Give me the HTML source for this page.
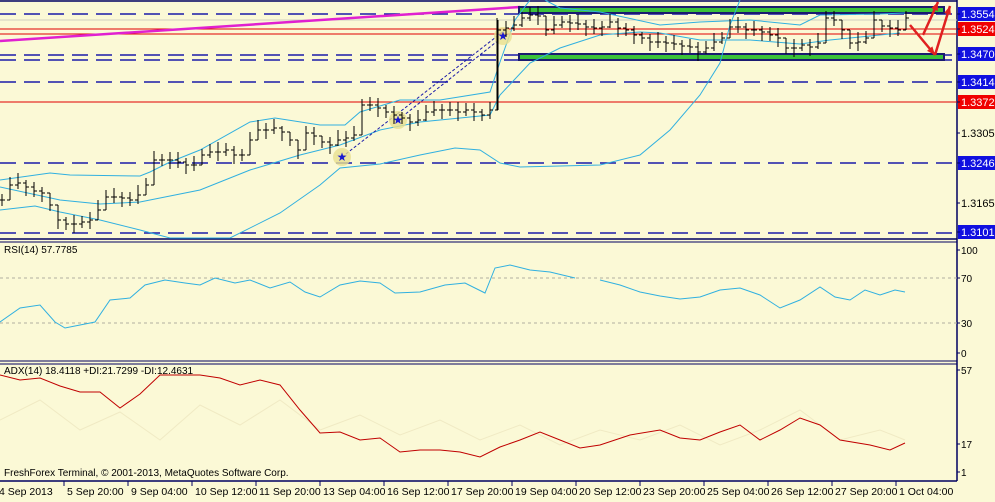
<!DOCTYPE html><html><head><style>
body{margin:0;background:#fbf9d6;}
svg{display:block;font-family:"Liberation Sans",sans-serif;}
</style></head><body>
<svg id="s" width="995" height="502" xmlns="http://www.w3.org/2000/svg">
<rect width="995" height="502" fill="#fbf9d6"/>
<g id="g"></g>
</svg>
<script>
const g=document.getElementById('g');let h='';
const L=(x1,y1,x2,y2,c,w,d)=>{h+=`<line x1="${x1}" y1="${y1}" x2="${x2}" y2="${y2}" stroke="${c}" stroke-width="${w||1}" ${d?`stroke-dasharray="${d}"`:''}/>`};
const P=(pts,c,w,extra)=>{h+=`<polyline fill="none" stroke="${c}" stroke-width="${w||1}" ${extra||''} points="${pts.map(p=>p.join(',')).join(' ')}"/>`};
const T=(x,y,t,c,s,a)=>{h+=`<text x="${x}" y="${y}" fill="${c}" font-size="${s||11}" ${a?`text-anchor="${a}"`:''}>${t}</text>`};
L(0,1,957,1,'#000060',1.5);L(0,239,957,239,'#000060',1.5);L(0,242,957,242,'#000060',1);
L(0,361,957,361,'#000060',1);L(0,364,957,364,'#000060',1);L(0,481,957,481,'#000060',1.5);
L(957,0,957,481,'#000060',1.5);
[14,55,60,82,163,233].forEach(y=>L(0,y,957,y,'#1a1aa8',1.5,'16,8'));
[29,34,102].forEach(y=>L(0,y,957,y,'#e00000',1));
L(0,20,957,20,'#d0d0c0',1);
L(0,41,520,7,'#e020d0',2.5);
h+=`<rect x="519" y="7" width="425" height="6" fill="#3ac23a" stroke="#1a1a70" stroke-width="2"/>`;
h+=`<rect x="519" y="54" width="425" height="6" fill="#3ac23a" stroke="#1a1a70" stroke-width="2"/>`;
const c='#30b0e0';
P([[0,180],[50,173],[70,175],[140,176],[150,172],[170,162],[200,150],[250,122],[275,118],[320,125],[345,125],[360,112],[400,100],[440,100],[490,92],[500,62],[515,20],[530,0]],c);
P([[545,0],[560,8],[600,12],[660,25],[700,22],[750,20],[800,25],[820,15],[880,14],[905,13]],c);
P([[0,187],[60,200],[100,204],[140,202],[200,190],[250,170],[300,155],[340,145],[380,130],[420,122],[490,115],[500,95],[530,63],[560,48],[600,35],[640,32],[660,33],[700,40],[750,40],[800,44],[830,40],[860,37],[900,33]],c);
P([[0,210],[35,206],[60,212],[100,220],[140,230],[170,238],[230,238],[280,213],[320,185],[340,168],[380,164],[420,155],[455,148],[480,150],[500,163],[520,167],[600,165],[640,155],[670,130],[700,95],[720,63],[730,25],[740,0]],c);
L(342,157,505,30,'#1a1aa8',1,'3,2');L(398,120,505,35,'#1a1aa8',1,'3,2');
[[342,157],[398,120],[503,36]].forEach(p=>{h+=`<circle cx="${p[0]}" cy="${p[1]}" r="9" fill="#e8e090" opacity=".8"/><text x="${p[0]}" y="${p[1]+4}" fill="#1a1ad0" font-size="12" text-anchor="middle">★</text>`});
const ys=[200,185,183,187,191,193,205,220,224,224,222,220,210,197,197,198,200,195,185,160,160,160,162,165,165,155,152,152,150,155,155,140,130,130,128,132,140,150,133,136,142,145,140,138,135,105,105,108,112,115,118,122,120,112,110,110,110,112,110,112,115,110,30,28,25,18,15,16,30,25,22,23,24,27,28,27,22,28,30,35,38,42,42,43,44,46,47,52,48,42,38,27,27,30,30,32,35,38,48,48,45,47,43,18,20,30,43,42,38,20,26,28,30,18];
ys.forEach((y,i)=>{const x=2+i*8;const hi=y-6-(i*7%5),lo=y+6+(i*3%6);const prev=i?ys[i-1]:y;L(x,Math.min(hi,prev),x,Math.max(lo,prev),'#000',1);L(x-3,prev,x,prev,'#000',1);L(x,y,x+3,y,'#000',1);});
L(497,110,497,18,'#000',1);
const ar=(x1,y1,x2,y2)=>{L(x1,y1,x2,y2,'#e02020',2.5);const a=Math.atan2(y2-y1,x2-x1),s=9;h+=`<polygon points="${x2},${y2} ${x2-s*Math.cos(a-.4)},${y2-s*Math.sin(a-.4)} ${x2-s*Math.cos(a+.4)},${y2-s*Math.sin(a+.4)}" fill="#e02020"/>`};
ar(923,35,938,2);ar(910,25,935,55);ar(935,55,950,6);
const lab=(y,t,bg)=>{if(bg)h+=`<rect x="958" y="${y-7}" width="37" height="14" fill="${bg}"/>`;T(961,y+4,t,bg?'#fff':'#000',11);L(957,y,960,y,'#000060',1)};
lab(14,'1.3554','#1010e0');lab(29,'1.3524','#f00000');lab(54,'1.3470','#1010e0');lab(82,'1.3414','#1010e0');lab(102,'1.3372','#f00000');lab(133,'1.3305');lab(163,'1.3246','#1010e0');lab(203,'1.3165');lab(232,'1.3101','#1010e0');
L(0,278,957,278,'#b0b0a0',1,'3,3');L(0,323,957,323,'#b0b0a0',1,'3,3');
T(4,253,'RSI(14) 57.7785','#000',10);
[[250,'100'],[278,'70'],[323,'30'],[353,'0']].forEach(v=>{T(961,v[0]+4,v[1],'#000',10);L(957,v[0],960,v[0],'#000060')});
P([[0,322],[20,308],[40,305],[55,322],[65,328],[80,325],[95,322],[110,300],[130,298],[145,285],[165,280],[185,283],[200,285],[215,278],[235,283],[250,280],[270,288],[290,282],[305,292],[320,297],[340,285],[360,281],[380,283],[395,293],[420,292],[445,285],[465,283],[485,293],[495,268],[510,265],[530,270],[550,272],[575,278]],c);
P([[600,280],[620,285],[640,292],[660,296],[680,299],[700,297],[720,290],[740,288],[760,295],[780,308],[800,300],[820,287],[835,297],[850,300],[865,290],[880,295],[895,290],[905,292]],c);
T(4,374,'ADX(14) 18.4118 +DI:21.7299 -DI:12.4631','#000',10);
[[370,'57'],[444,'17'],[472,'1']].forEach(v=>{T(961,v[0]+4,v[1],'#000',10);L(957,v[0],960,v[0],'#000060')});
P([[0,420],[40,400],[80,430],[120,412],[160,440],[200,405],[240,425],[280,400],[320,430],[360,415],[400,435],[440,420],[480,440],[520,425],[560,445],[600,430],[640,440],[680,425],[720,445],[760,430],[800,410],[840,440],[880,430],[905,440]],'#f0eac4',1);
P([[0,375],[20,380],[40,378],[60,386],[80,392],[100,392],[120,408],[140,394],[160,375],[185,375],[200,375],[220,378],[240,385],[260,380],[280,385],[300,410],[320,433],[340,432],[360,440],[380,438],[400,452],[420,450],[440,450],[460,452],[480,457],[500,447],[520,440],[540,432],[560,440],[580,448],[600,445],[630,435],[660,430],[680,438],[700,440],[720,432],[740,425],[760,440],[780,430],[800,418],[820,425],[840,440],[870,445],[890,450],[905,443]],'#c00000',1);
T(4,476,'FreshForex Terminal, © 2001-2013, MetaQuotes Software Corp.','#000',10);
const ts=['4 Sep 2013','5 Sep 20:00','9 Sep 04:00','10 Sep 12:00','11 Sep 20:00','13 Sep 04:00','16 Sep 12:00','17 Sep 20:00','19 Sep 04:00','20 Sep 12:00','23 Sep 20:00','25 Sep 04:00','26 Sep 12:00','27 Sep 20:00','1 Oct 04:00'];
ts.forEach((t,i)=>{const x=i*64;T(i?x+3:-1,495,t,'#000',10.5);if(i)L(x,481,x,486,'#000060')});
g.innerHTML=h;
</script>
</body></html>
